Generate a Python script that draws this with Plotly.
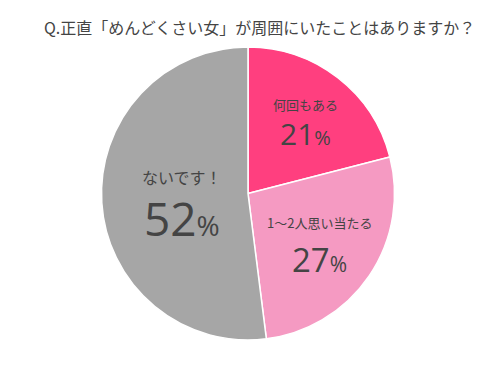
import math
import plotly.graph_objects as go

labels = ["何回もある", "1〜2人思い当たる", "ないです！"]
values = [21, 27, 52]
colors = ["#FF3F7F", "#F59AC2", "#A6A6A6"]
title = "Q.正直「めんどくさい女」が周囲にいたことはありますか？"

W, H = 501, 383
OFF = 8  # page body margin offset
cx, cy, R = 248 - OFF, 193.5 - OFF, 146.5
text_r = [94, 86, 66]
label_sizes = [13, 13, 16]
value_sizes = [30, 33, 46]
pct_sizes = [20, 21, 28]
gaps = [15, 19, 21]

fig = go.Figure(go.Pie(
    labels=labels, values=values, sort=False, direction="clockwise", rotation=0,
    marker=dict(colors=colors, line=dict(color="white", width=1.5)),
    textinfo="none", hoverinfo="skip", showlegend=False,
    domain=dict(x=[(cx - R) / W, (cx + R) / W], y=[1 - (cy + R) / H, 1 - (cy - R) / H]),
))

total = sum(values)
cum = 0
font_fam = "Noto Sans CJK JP, Noto Sans, sans-serif"
for i, v in enumerate(values):
    mid = (cum + v / 2) / total * 2 * math.pi
    cum += v
    px = cx + text_r[i] * math.sin(mid)
    py = cy - text_r[i] * math.cos(mid)
    xp, yp = px / W, 1 - py / H
    fig.add_annotation(x=xp, y=yp, xref="paper", yref="paper", text=labels[i],
                       showarrow=False, yshift=gaps[i], xanchor="center", yanchor="middle",
                       font=dict(size=label_sizes[i], color="#444444", family=font_fam))
    fig.add_annotation(x=xp, y=yp, xref="paper", yref="paper",
                       text=f"{v}<span style='font-size:{pct_sizes[i]}px'>%</span>",
                       showarrow=False, yshift=-gaps[i] + 1, xanchor="center", yanchor="middle",
                       font=dict(size=value_sizes[i], color="#444444", family="Open Sans, Noto Sans, sans-serif"))

fig.add_annotation(x=(260 - OFF) / W, y=1 - (27 - OFF) / H, xref="paper", yref="paper", text=title,
                   showarrow=False, xanchor="center", yanchor="middle",
                   font=dict(size=16, color="#444444", family=font_fam))

fig.update_layout(width=W, height=H, margin=dict(l=0, r=0, t=0, b=0),
                  paper_bgcolor="white", plot_bgcolor="white")
fig.write_html("out.html")
